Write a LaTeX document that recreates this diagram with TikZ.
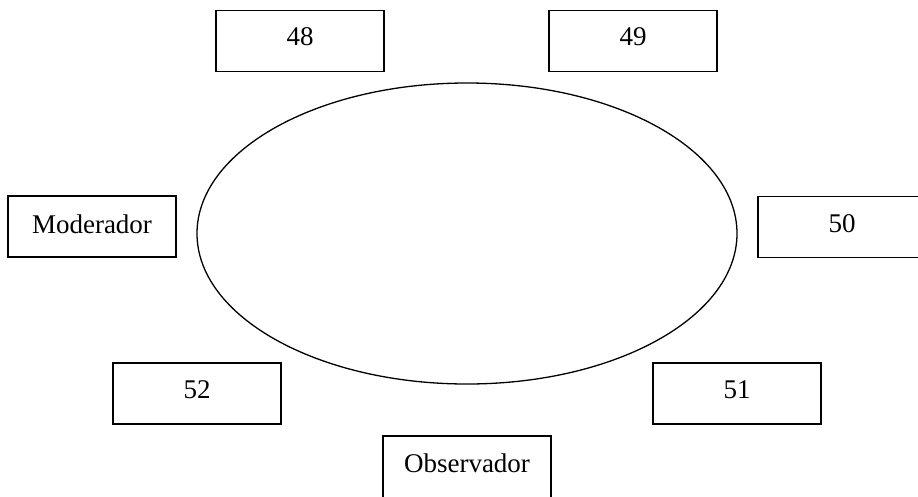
\documentclass[tikz,border=0pt]{standalone}
\usepackage{fontspec}
\setmainfont{Liberation Serif}
\usetikzlibrary{shapes.geometric}
\begin{document}
\begin{tikzpicture}[x=1pt,y=-1pt,
  seat/.style={draw=black, line width=1.6pt, rectangle, minimum width=168pt, minimum height=61pt, inner sep=0pt, font=\fontsize{27}{30}\selectfont},
  tablebox/.style={draw=black, line width=1.3pt, ellipse, minimum width=540pt, minimum height=301pt, inner sep=0pt}]
\path[fill=white] (0,0) rectangle (918,496);
\useasboundingbox (0,0) rectangle (918,496);
\clip (0,0) rectangle (918,496);
\node[tablebox] (mesa) at (467,233.5) {};
\node[seat] (s48) at (300,41) {\raisebox{8pt}{48}};
\node[seat] (s49) at (633,41) {\raisebox{8pt}{49}};
\node[seat] (mod) at (92,226.5) {\raisebox{5pt}{Moderador}};
\node[seat] (s50) at (842,227) {\raisebox{6pt}{50}};
\node[seat] (s52) at (197,393.5) {\raisebox{7pt}{52}};
\node[seat] (s51) at (737,393.5) {\raisebox{7pt}{51}};
\node[seat, minimum height=66pt] (obs) at (467,469) {\raisebox{11pt}{Observador}};
\end{tikzpicture}
\end{document}
